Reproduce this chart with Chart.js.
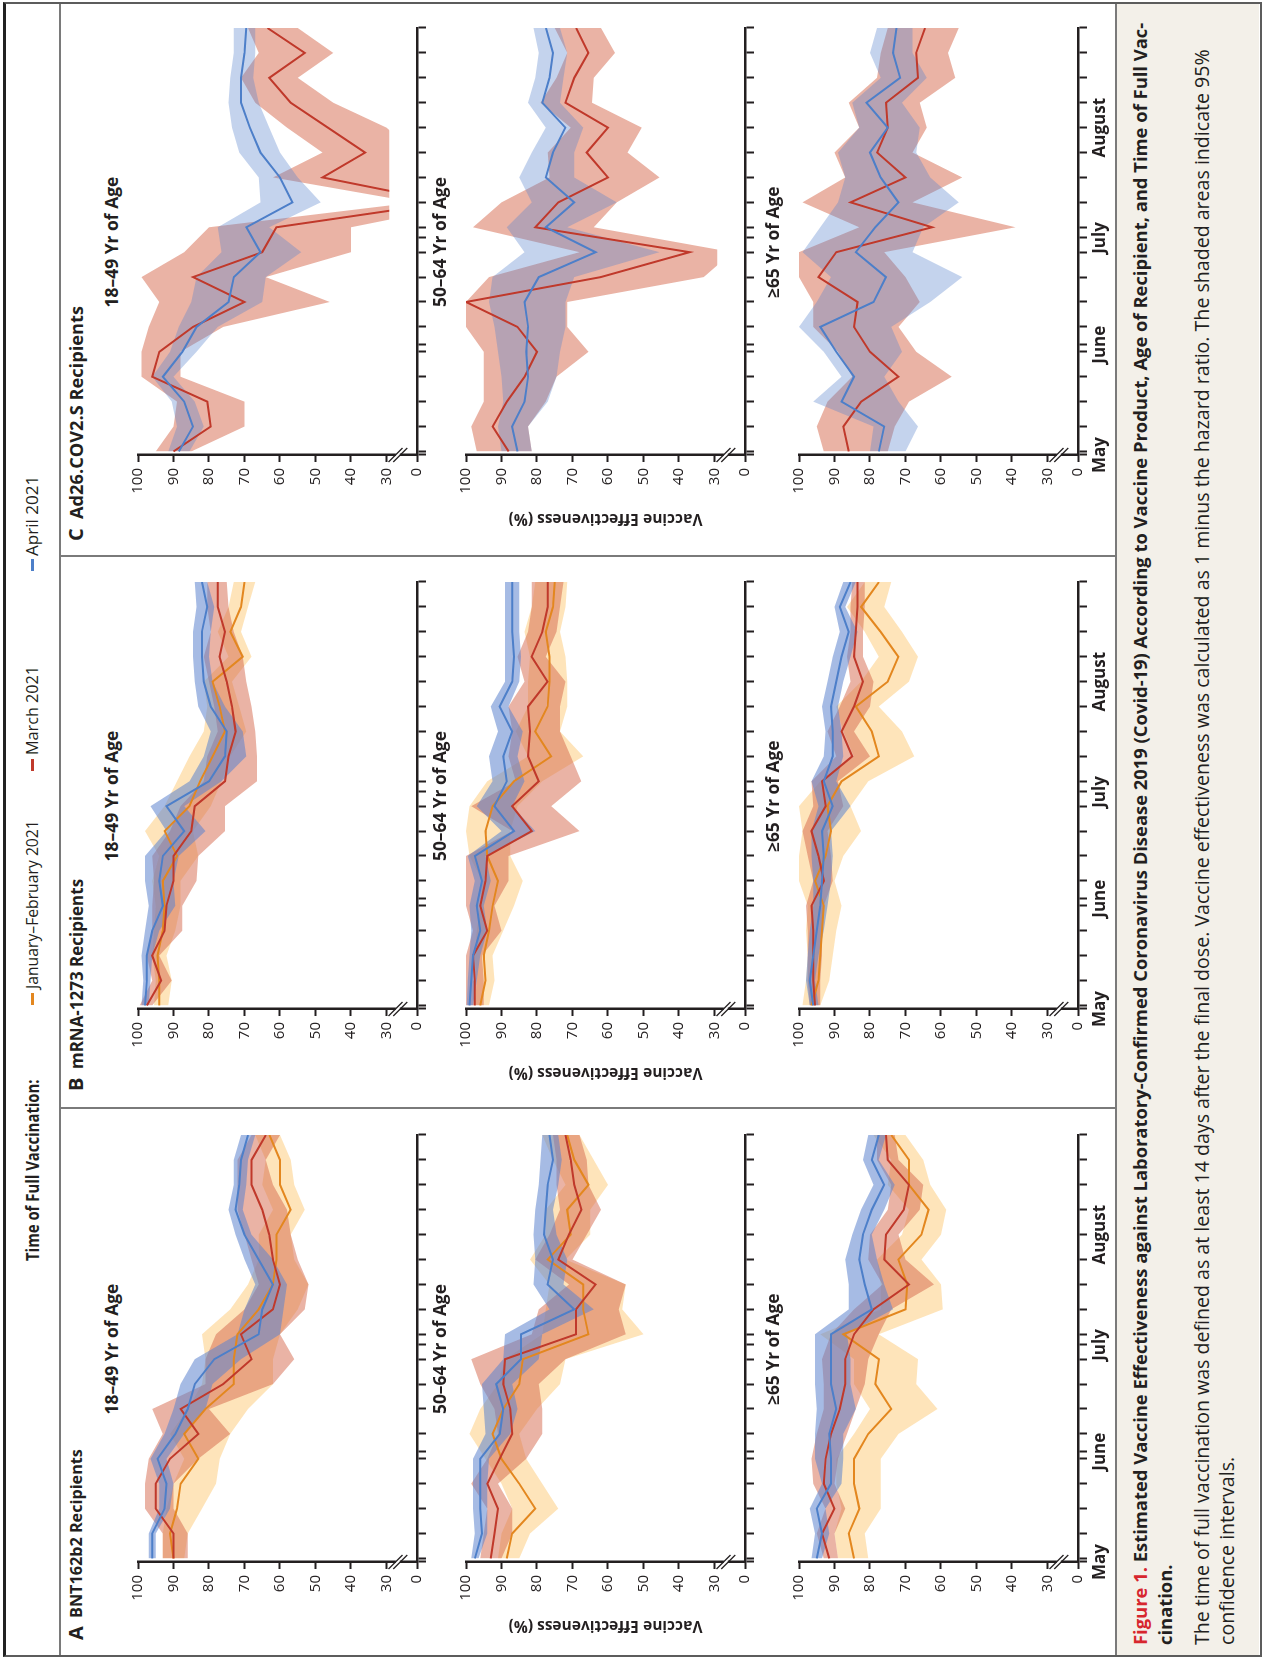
<!DOCTYPE html>
<html>
<head>
<meta charset="utf-8">
<script src="https://cdn.jsdelivr.net/npm/chart.js@4.4.0/dist/chart.umd.min.js"></script>
<style>
  html, body { margin: 0; padding: 0; background: #fff; }
  body { width: 1264px; height: 1659px; overflow: hidden; position: relative; }
  #fig {
    position: absolute; left: 0; top: 0; width: 1659px; height: 1264px;
    transform-origin: 0 0; transform: translateY(1659px) rotate(-90deg);
    background: #fff; font-family: 'Open Sans', 'Noto Sans', sans-serif; color: #231f20;
  }
  .txt { position: absolute; white-space: nowrap; line-height: 1; transform-origin: 0 50%; }
  .frame { position: absolute; left: 2px; top: 3px; width: 1651px; height: 1254px;
           border: 2px solid #5c5c5c; border-top: 3px solid #222; }
  .line { position: absolute; background: #7a7a7a; }
  .mark { position: absolute; height: 3px; width: 12px; }
  .caption { position: absolute; left: 4px; top: 1117px; width: 1651px; height: 142px; background: #f3f0e9; }
  canvas { position: absolute; }
</style>
</head>
<body>
<div id="fig">
  <div class="caption"></div>
  <div class="frame"></div>
  <div class="line" style="left:4px; top:59px; width:1651px; height:2px"></div>
  <div class="line" style="left:4px; top:1115px; width:1651px; height:2px"></div>
  <div class="line" style="left:550px; top:60px; width:2px; height:1056px"></div>
  <div class="line" style="left:1102px; top:60px; width:2px; height:1056px"></div>
</div>
<script>
// weekly time points, days after May 2, 2021
const weekDays = [0, 7, 14, 21, 28, 35, 42, 49, 56, 63, 70, 77, 84, 91, 98, 105, 112, 119];
const monthDays = [-1, 30, 60, 91];
const monthNames = ['May', 'June', 'July', 'August'];
const yTickValues = [30, 40, 50, 60, 70, 80, 90, 100];
const seriesNames = ['January–February 2021', 'March 2021', 'April 2021'];
const ageGroups = ['18–49 Yr of Age', '50–64 Yr of Age', '≥65 Yr of Age'];
const productNames = ['BNT162b2 Recipients', 'mRNA-1273 Recipients', 'Ad26.COV2.S Recipients'];

// A  BNT162b2
const bnt1849Jan   = [90, 91, 89, 88, 83, 87, 81, 73, 73, 72, 66, 62, 61, 61, 57, 60, 60, 63];
const bnt1849JanLo = [87, 86, 82, 78, 77, 74, 69, 62, 62, 60, 55, 52, 56, 57, 53, 56, 57, 60];
const bnt1849JanHi = [93, 93, 92, 90, 87, 91, 86, 82, 81, 82, 74, 69, 66, 66, 62, 65, 64, 67];
const bnt1849Mar   = [90, 90, 95, 95, 91, 83, 88, 76, 68, 71, 62, 60, 62, 63, 65, 68, 68, 64];
const bnt1849MarLo = [86, 86, 90, 90, 83, 74, 80, 62, 56, 60, 53, 52, 55, 57, 58, 62, 64, 60];
const bnt1849MarHi = [93, 93, 98, 98, 97, 93, 96, 81, 81, 78, 70, 66, 68, 70, 72, 72, 72, 68];
const bnt1849Apr   = [96, 96, 92.5, 92, 94.5, 89.5, 86, 84, 78.5, 66, 65, 62, 66, 70, 72.5, 71.5, 71, 69];
const bnt1849AprLo = [95, 95, 91, 90, 92, 87, 81, 79, 71, 60, 59, 58, 62, 68, 70.5, 69.5, 69, 67];
const bnt1849AprHi = [97, 97, 94, 94, 96.5, 92.5, 90, 88, 84, 72, 70, 67, 70, 72.5, 74.5, 73, 73, 71];

const bnt5064Jan   = [88.5, 87, 80.5, 85, 90, 92.5, 89.5, 85, 84, 65.5, 67, 67, 77, 70.5, 71.5, 65.5, 69.5, 71.5];
const bnt5064JanLo = [85, 82, 74, 78.5, 83, 85, 80, 73.5, 72, 50, 56, 55, 72, 65, 65, 60, 64, 68];
const bnt5064JanHi = [91, 90, 87, 90, 94.5, 99, 96, 91, 89, 78.5, 77.5, 76.5, 82, 77.5, 77.5, 72, 75.5, 78.5];
const bnt5064Mar   = [93, 92, 91, 94, 90.5, 87, 87.5, 89.5, 89, 69, 69, 63.5, 74, 71, 67.5, 69.5, 70.5, 72];
const bnt5064MarLo = [90, 87, 87, 91, 83, 78.5, 78.5, 79.5, 72, 55, 57, 55, 70, 66, 62, 65.5, 66, 68];
const bnt5064MarHi = [96, 95, 94, 98.5, 94, 91, 92, 96, 98.5, 81.5, 79.5, 71, 80.5, 76.5, 73.5, 74.5, 74.5, 75.5];
const bnt5064Apr   = [97.5, 95.5, 96, 96, 96, 90.5, 89.5, 91.5, 84.5, 84.5, 69.5, 77, 75.5, 78, 77.5, 77, 75.5, 76.5];
const bnt5064AprLo = [96.5, 94, 94, 94, 93.5, 87.5, 85.5, 87, 79.5, 78.5, 64, 72.5, 71.5, 74.5, 75.5, 74, 73, 74];
const bnt5064AprHi = [98.5, 97.5, 98, 98, 98, 94.5, 95, 95.5, 89.5, 89, 76.5, 81, 80.5, 81, 80.5, 79.5, 79, 78.5];

const bnt65Jan   = [84.5, 86, 83, 84.5, 84.5, 80.5, 74, 78.5, 77.5, 87.5, 70, 69.5, 72, 65.5, 63.5, 69, 69, 74];
const bnt65JanLo = [80.5, 81.5, 77, 77, 77, 72, 61, 67, 66.5, 77.5, 59.5, 60, 65.5, 60, 58.5, 63, 65, 70];
const bnt65JanHi = [89, 90, 88, 89.5, 89.5, 84.5, 80, 84.5, 84.5, 94, 77, 77, 78, 71, 69, 75, 74, 79];
const bnt65Mar   = [91.5, 93.5, 90, 93, 92.5, 91, 88.5, 87, 87, 84.5, 79, 69, 76, 75.5, 70.5, 69, 75, 75.5];
const bnt65MarLo = [89, 90, 87, 90, 89, 86.5, 84, 81.5, 80.5, 77.5, 74, 62, 70, 72, 66, 65, 72, 73];
const bnt65MarHi = [93, 95, 92.5, 96, 96.5, 95, 93, 93, 93.5, 91, 84.5, 76.5, 80.5, 80, 75, 74, 78, 78];
const bnt65Apr   = [95, 93.5, 95, 91, 91, 91.5, 89.5, 91, 91, 91, 79.5, 81.5, 83, 82, 79.5, 76, 79.5, 77.5];
const bnt65AprLo = [93.5, 91.5, 92.5, 88, 87.5, 87.5, 84, 85.5, 85.5, 86.5, 73.5, 76, 78, 79.5, 76, 73, 77.5, 75.5];
const bnt65AprHi = [96.5, 95.5, 97, 93.5, 95.5, 95.5, 95, 95.5, 95.5, 95.5, 86, 86, 87, 85, 82.5, 79, 82, 80.5];

// B  mRNA-1273
const mrna1849Jan   = [94, 94, 94.5, 93, 92.5, 93, 89, 92.5, 85.5, 82.5, 79, 75.5, 77, 79, 70.5, 74, 71, 70];
const mrna1849JanLo = [91.5, 90.5, 92, 89.5, 88, 88, 83, 84.5, 79.5, 76.5, 74, 69.5, 71.5, 73.5, 68, 71, 69, 67];
const mrna1849JanHi = [95.5, 95, 96, 95.5, 95, 96, 94, 98, 92.5, 89, 85.5, 81.5, 80.5, 81.5, 74.5, 77.5, 74.5, 73];
const mrna1849Mar   = [97.5, 93.5, 96, 92.5, 92, 90, 90, 85, 84, 75.5, 74.5, 72.5, 73.5, 75, 77, 75.5, 77.5, 77.5];
const mrna1849MarLo = [96, 90.5, 94, 87.5, 87.5, 83.5, 83, 75.5, 75.5, 66.5, 66.5, 67, 68, 69.5, 70.5, 73, 74.5, 75];
const mrna1849MarHi = [99.5, 96, 97.5, 96, 96, 95.5, 96, 91, 88, 81.5, 80.5, 77.5, 78.5, 80, 81.5, 79.5, 80.5, 80.5];
const mrna1849Apr   = [98, 97.5, 97.5, 96, 93, 94, 93, 87, 92, 80, 75.5, 75, 79.5, 81.5, 82, 82, 80.5, 82];
const mrna1849AprLo = [97, 96.5, 96, 94, 89.5, 90, 88.5, 81, 87, 76.5, 69.5, 70.5, 75.5, 79, 80, 79.5, 78.5, 80.5];
const mrna1849AprHi = [99, 98.5, 99, 98, 97, 98, 98, 92, 96.5, 85.5, 81.5, 79.5, 83, 84, 84.5, 84.5, 83.5, 84];

const mrna5064Jan   = [96, 94.5, 95, 93.5, 92.5, 91, 94, 94.5, 92.5, 86.5, 76, 80.5, 77, 76.5, 76.5, 77.5, 75.5, 75];
const mrna5064JanLo = [93.5, 92, 92.5, 89.5, 86.5, 84, 87.5, 87.5, 85.5, 78.5, 67, 73.5, 71.5, 71.5, 72, 73.5, 72, 71.5];
const mrna5064JanHi = [97.5, 97, 97.5, 97, 96, 95.5, 99, 100, 99, 94, 82.5, 86, 82.5, 82.5, 82, 83.5, 81.5, 80.5];
const mrna5064Mar   = [97.5, 97.5, 98, 94, 96, 94.5, 94, 81.5, 87, 79.5, 82.5, 82, 82.5, 77, 81.5, 78.5, 77, 77];
const mrna5064MarLo = [95, 95, 95.5, 90, 92, 88, 88, 68, 76, 67.5, 70.5, 73.5, 73.5, 72, 77.5, 74.5, 73.5, 72.5];
const mrna5064MarHi = [100, 100, 100, 98, 100, 100, 100, 87, 98.5, 86, 88, 87, 88, 83.5, 85.5, 82.5, 81.5, 81.5];
const mrna5064Apr   = [99, 98.5, 98, 96, 97, 95.5, 97.5, 86.5, 92, 88.5, 89.5, 87, 90.5, 87, 86.5, 87, 87, 87];
const mrna5064AprLo = [98, 97, 96, 94, 95, 93, 94.5, 80.5, 87, 83.5, 85.5, 84, 88, 85, 84.5, 85, 85, 85];
const mrna5064AprHi = [99.8, 99.5, 99, 98.5, 99, 97.5, 99.5, 90, 97, 92.5, 93.5, 91, 93, 89, 89, 89, 89, 89];

const mrna65Jan   = [96.5, 94.5, 94, 93.5, 93, 95.5, 92.5, 91, 92, 88, 77.5, 79.5, 84, 75, 72, 77, 82.5, 77.5];
const mrna65JanLo = [94, 91.5, 90.5, 89.5, 88, 90, 87.5, 82.5, 85.5, 80.5, 67.5, 71, 77.5, 69, 66.5, 71, 76, 74];
const mrna65JanHi = [99, 98, 97.5, 98, 97.5, 100, 100, 99, 100, 94, 84.5, 87.5, 89.5, 82.5, 77.5, 81.5, 86.5, 81.5];
const mrna65Mar   = [95.5, 96, 96, 96, 96.5, 93, 94.5, 96.5, 92.5, 93.5, 85, 88, 84.5, 82, 84.5, 84, 83.5, 83.5];
const mrna65MarLo = [94, 94, 93.5, 93.5, 93, 90.5, 91, 92, 87.5, 89, 80, 84.5, 80, 79, 82, 82, 81.5, 81.5];
const mrna65MarHi = [97, 97.5, 97.5, 97.5, 98, 96, 97.5, 99, 96, 96.5, 89.5, 92, 88.5, 85.5, 86.5, 85.5, 85.5, 85];
const mrna65Apr   = [96, 97, 96, 95, 94, 93.5, 93, 93.5, 90.5, 93, 90.5, 90.5, 91, 89.5, 88, 86, 88.5, 85.5];
const mrna65AprLo = [94.5, 95.5, 94.5, 93, 92, 91, 90.5, 91, 85.5, 89.5, 87.5, 88, 89, 87.5, 85.5, 83.5, 87, 84];
const mrna65AprHi = [97, 98, 97.5, 97, 96, 96, 96.5, 96.5, 94.5, 96.5, 93, 92.5, 93.5, 92, 90.5, 88.5, 90, 87.5];

// C  Ad26.COV2.S (no January–February series)
const ad1849Mar   = [90, 79.5, 80.5, 96, 94, 84.5, 70, 84.5, 65, 61, 13, 48, 36, 46.5, 57, 63, 53, 63.5];
const ad1849MarLo = [85, 70, 70, 88, 88, 76, 46, 64, 40, 40, 5, 25, 22, 30, 45, 55, 45, 55];
const ad1849MarHi = [95, 90, 89, 99, 99, 97, 94, 99, 87, 80, 22, 62, 48, 58, 67, 71, 66, 69];
const ad1849Apr   = [88.5, 84.5, 87, 93, 87.5, 83.5, 74.5, 73, 65.5, 69.5, 56.5, 60, 65.5, 68.5, 71, 71, 70, 69.5];
const ad1849AprLo = [85.5, 81.5, 84, 90, 83.5, 77.5, 65, 64, 54, 63, 48.5, 55, 60, 63, 66, 67.5, 67, 67];
const ad1849AprHi = [91.5, 89, 90.5, 96, 91, 88.5, 85, 83.5, 76.5, 77.5, 65.5, 66, 71.5, 73.5, 74.5, 74, 73, 73];

const ad5064Mar   = [88, 92.5, 88.5, 83.5, 80, 85.5, 100, 62, 37, 80.5, 74, 60, 66, 60, 72, 69.5, 65.5, 69];
const ad5064MarLo = [81.5, 82.5, 77.5, 74.5, 65.5, 71.5, 71.5, 33, 25, 64, 57.5, 45.5, 54.5, 50.5, 64.5, 64, 58, 62];
const ad5064MarHi = [97, 98.5, 95, 95, 95, 100, 100, 93.5, 68, 98, 90, 76.5, 77, 70.5, 79, 74.5, 71.5, 75];
const ad5064Apr   = [85.5, 87, 83.5, 82.5, 83, 82.5, 83.5, 79.5, 63.5, 77.5, 69.5, 77.5, 75.5, 72, 78.5, 76.5, 75.5, 77.5];
const ad5064AprLo = [81.5, 82.5, 77, 74.5, 73.5, 72, 72, 69.5, 45.5, 71.5, 57.5, 69.5, 69.5, 67, 73.5, 72.5, 71.5, 73.5];
const ad5064AprHi = [90, 91, 89.5, 90, 91, 92, 93.5, 92.5, 83.5, 88.5, 81.5, 85, 81.5, 77.5, 82.5, 80.5, 79.5, 81];

const ad65Mar   = [86, 87.5, 82.5, 72, 80, 84.5, 83.5, 94.5, 89.5, 62.5, 85.5, 70, 78, 75, 75.5, 66.5, 67, 64.5];
const ad65MarLo = [75, 73, 69, 57, 67, 72, 66, 70, 76, 39, 68, 54, 68, 64, 66, 56, 58, 55];
const ad65MarHi = [93, 95, 92, 85, 89, 96, 96, 100, 100, 83, 99, 87, 90, 83, 86, 78, 77, 75];
const ad65Apr   = [77.5, 76, 88, 84.5, 89.5, 94, 79, 75.5, 84, 78.5, 72, 77, 80, 75, 81, 71.5, 73.5, 72.5];
const ad65AprLo = [70, 66.5, 72, 76, 71, 74, 63, 54, 68, 65, 55, 63, 67, 66, 71, 64, 68, 68];
const ad65AprHi = [80, 79, 96, 88, 93, 100, 95, 91, 99, 94, 89, 87, 89, 83, 85, 77, 80, 78];

const INK = '#231f20';
const FONT = "'Open Sans', 'Noto Sans', sans-serif";
const COLORS = {
  jan: { line: '#e3871f', band: 'rgba(253,205,130,0.55)' },
  mar: { line: '#c0392b', band: 'rgba(214,104,76,0.5)' },
  apr: { line: '#4d7fc9', band: 'rgba(92,132,206,0.55)' }
};
const LIGHT_BLUE_BAND = 'rgba(92,132,206,0.36)';   // panel C uses a paler blue band
const Y_BASE = 21.4;      // value drawn at the "0" position below the axis break
const Y_CLIP = 29.2;      // data are cut off here, just under the break
const PLOT_LEFT = [97, 650, 1204];
const ROW_TOP = [133, 461, 794];

const fig = document.getElementById('fig');

// o.w: target width, reached by font size, or by horizontal squeeze when o.squeeze is set
function addText(html, x, y, o) {
  const el = document.createElement('div');
  el.className = 'txt';
  el.innerHTML = html;
  el.style.fontSize = o.size + 'px';
  el.style.fontWeight = o.bold ? '700' : '400';
  if (o.color) el.style.color = o.color;
  fig.appendChild(el);
  let width = el.offsetWidth;
  if (o.w && o.squeeze) {
    el.style.transform = 'scaleX(' + (o.w / width) + ')';
    width = o.w;
  } else if (o.w) {
    el.style.fontSize = (o.size * o.w / width) + 'px';
    width = el.offsetWidth;
  }
  el.style.left = (o.align === 'center' ? x - width / 2 : x) + 'px';
  el.style.top = (y - el.offsetHeight / 2) + 'px';
  return el;
}

function addMark(color, x, y) {
  const m = document.createElement('div');
  m.className = 'mark';
  m.style.background = color;
  m.style.left = x + 'px';
  m.style.top = (y - 1.5) + 'px';
  fig.appendChild(m);
}

// legend strip
addText('Time of Full Vaccination:', 398, 32, { size: 17, bold: true, w: 182, squeeze: true });
addMark(COLORS.jan.line, 654, 32);
addText(seriesNames[0], 670, 32, { size: 16, w: 169, squeeze: true });
addMark(COLORS.mar.line, 888, 32);
addText(seriesNames[1], 904, 32, { size: 16, w: 89, squeeze: true });
addMark(COLORS.apr.line, 1088, 32);
addText(seriesNames[2], 1103, 32, { size: 16, w: 80, squeeze: true });

// panel headers
const headerW = [169, 190, 213];
['A', 'B', 'C'].forEach((letter, p) => {
  const base = [19, 568, 1118][p];
  addText(letter, base, 76, { size: 20, bold: true });
  addText(productNames[p], base + 22, 76, { size: 16, bold: true, w: headerW[p] });
});

// caption
const c1 = addText('<span style="color:#d7262e">Figure 1.</span> Estimated Vaccine Effectiveness against Laboratory-Confirmed Coronavirus Disease 2019 (Covid-19) According to Vaccine Product, Age of Recipient, and Time of Full Vac-', 14, 1140, { size: 17, bold: true, w: 1624 });
addText('cination.', 14, 1165, { size: parseFloat(c1.style.fontSize), bold: true });
const c3 = addText('The time of full vaccination was defined as at least 14 days after the final dose. Vaccine effectiveness was calculated as 1 minus the hazard ratio. The shaded areas indicate 95%', 14, 1202, { size: 17, w: 1597 });
addText('confidence intervals.', 14, 1227, { size: parseFloat(c3.style.fontSize) });

// clip the data just under the axis break
const breakClip = {
  id: 'breakClip',
  beforeDatasetsDraw(chart) {
    const { ctx, chartArea: a, scales: { y } } = chart;
    ctx.save();
    ctx.beginPath();
    ctx.rect(a.left, a.top - 4, a.right - a.left + 4, y.getPixelForValue(Y_CLIP) - a.top + 4);
    ctx.clip();
  },
  afterDatasetsDraw(chart) { chart.ctx.restore(); }
};

// the // marks on the value axis, and the value-axis title on the middle row
const axisBreak = {
  id: 'axisBreak',
  afterDraw(chart, args, opts) {
    const { ctx, chartArea: a, scales: { y } } = chart;
    const yc = y.getPixelForValue(26.8);
    const x = a.left;
    ctx.save();
    ctx.fillStyle = '#fff';
    ctx.fillRect(x - 3, yc - 2, 6, 4);
    ctx.strokeStyle = INK;
    ctx.lineWidth = 1.3;
    [-2.4, 2.4].forEach(d => {
      ctx.beginPath();
      ctx.moveTo(x - 7, yc + d - 7);
      ctx.lineTo(x + 7, yc + d + 7);
      ctx.stroke();
    });
    if (opts.title) {
      ctx.translate(a.left - 63, (a.top + a.bottom) / 2);
      ctx.rotate(-Math.PI / 2);
      ctx.fillStyle = INK;
      ctx.font = "bold 15.5px " + FONT;
      ctx.textAlign = 'center';
      ctx.textBaseline = 'middle';
      ctx.fillText(opts.title, 0, 0);
    }
    ctx.restore();
  }
};

const xTicks = [...new Set([...monthDays, ...weekDays])].sort((a, b) => a - b);

function pts(vals) { return vals.map((v, i) => ({ x: weekDays[i], y: v })); }

function buildDatasets(series, pale) {
  const ds = [];
  series.forEach((s, i) => {
    const band = (pale && s.key === 'apr') ? LIGHT_BLUE_BAND : COLORS[s.key].band;
    ds.push({ data: pts(s.lo), borderColor: 'rgba(0,0,0,0)', pointRadius: 0, fill: false, order: 20 - 2 * i });
    ds.push({ data: pts(s.hi), borderColor: 'rgba(0,0,0,0)', backgroundColor: band,
              pointRadius: 0, fill: '-1', order: 19 - 2 * i });
  });
  series.forEach((s, i) => {
    ds.push({ data: pts(s.line), borderColor: COLORS[s.key].line, borderWidth: 2, pointRadius: 0,
              fill: false, order: 5 - i });
  });
  return ds;
}

function makeChart(p, r, series) {
  const cv = document.createElement('canvas');
  cv.width = 529; cv.height = 334;
  cv.style.left = (PLOT_LEFT[p] - 92) + 'px';
  cv.style.top = (ROW_TOP[r] - 10) + 'px';
  fig.appendChild(cv);
  const showMonths = r === 2;
  new Chart(cv.getContext('2d'), {
    type: 'line',
    data: { datasets: buildDatasets(series, p === 2) },
    options: {
      responsive: false, animation: false, events: [],
      layout: { padding: { top: 10, right: 10, left: 0, bottom: 0 } },
      elements: { line: { tension: 0 } },
      plugins: {
        legend: { display: false }, tooltip: { enabled: false },
        axisBreak: { title: r === 1 ? 'Vaccine Effectiveness (%)' : '' }
      },
      scales: {
        x: {
          type: 'linear', min: -1, max: 119,
          afterBuildTicks: s => { s.ticks = xTicks.map(v => ({ value: v })); },
          afterFit: s => { s.height = 40; },
          grid: { drawOnChartArea: false, tickLength: 9, tickWidth: 2, tickColor: INK },
          border: { color: INK, width: 2.5 },
          ticks: {
            autoSkip: false, maxRotation: 0, padding: 3, color: INK,
            font: { family: FONT, size: 17, weight: 'bold' },
            callback: v => (showMonths && monthDays.includes(v)) ? monthNames[monthDays.indexOf(v)] : ''
          }
        },
        y: {
          min: Y_BASE, max: 100,
          afterBuildTicks: s => { s.ticks = [Y_BASE, ...yTickValues].map(v => ({ value: v })); },
          afterFit: s => { s.width = 92; },
          grid: { drawOnChartArea: false, tickLength: 7, tickWidth: 2, tickColor: INK },
          border: { color: INK, width: 2.5 },
          ticks: { padding: 6, color: INK, font: { family: FONT, size: 15 },
                   callback: v => v < 25 ? '0' : String(v) }
        }
      }
    },
    plugins: [breakClip, axisBreak]
  });
  addText(ageGroups[r], PLOT_LEFT[p] + 213, ROW_TOP[r] - 22, { size: 16, bold: true, align: 'center',
          w: [131, 130, 112][r] });
}

const S = (key, line, lo, hi) => ({ key, line, lo, hi });

makeChart(0, 0, [S('jan', bnt1849Jan, bnt1849JanLo, bnt1849JanHi), S('mar', bnt1849Mar, bnt1849MarLo, bnt1849MarHi), S('apr', bnt1849Apr, bnt1849AprLo, bnt1849AprHi)]);
makeChart(0, 1, [S('jan', bnt5064Jan, bnt5064JanLo, bnt5064JanHi), S('mar', bnt5064Mar, bnt5064MarLo, bnt5064MarHi), S('apr', bnt5064Apr, bnt5064AprLo, bnt5064AprHi)]);
makeChart(0, 2, [S('jan', bnt65Jan, bnt65JanLo, bnt65JanHi), S('mar', bnt65Mar, bnt65MarLo, bnt65MarHi), S('apr', bnt65Apr, bnt65AprLo, bnt65AprHi)]);

makeChart(1, 0, [S('jan', mrna1849Jan, mrna1849JanLo, mrna1849JanHi), S('mar', mrna1849Mar, mrna1849MarLo, mrna1849MarHi), S('apr', mrna1849Apr, mrna1849AprLo, mrna1849AprHi)]);
makeChart(1, 1, [S('jan', mrna5064Jan, mrna5064JanLo, mrna5064JanHi), S('mar', mrna5064Mar, mrna5064MarLo, mrna5064MarHi), S('apr', mrna5064Apr, mrna5064AprLo, mrna5064AprHi)]);
makeChart(1, 2, [S('jan', mrna65Jan, mrna65JanLo, mrna65JanHi), S('mar', mrna65Mar, mrna65MarLo, mrna65MarHi), S('apr', mrna65Apr, mrna65AprLo, mrna65AprHi)]);

makeChart(2, 0, [S('mar', ad1849Mar, ad1849MarLo, ad1849MarHi), S('apr', ad1849Apr, ad1849AprLo, ad1849AprHi)]);
makeChart(2, 1, [S('mar', ad5064Mar, ad5064MarLo, ad5064MarHi), S('apr', ad5064Apr, ad5064AprLo, ad5064AprHi)]);
makeChart(2, 2, [S('mar', ad65Mar, ad65MarLo, ad65MarHi), S('apr', ad65Apr, ad65AprLo, ad65AprHi)]);
</script>
</body>
</html>
